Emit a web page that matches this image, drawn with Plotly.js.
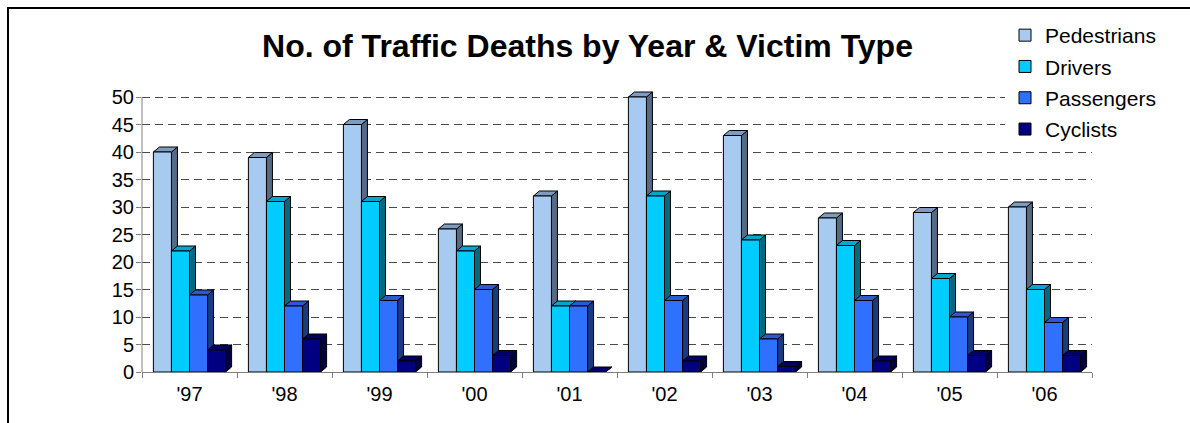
<!DOCTYPE html>
<html><head><meta charset="utf-8">
<script src="https://cdn.plot.ly/plotly-3.0.1.min.js"></script>
<style>
html,body{margin:0;padding:0;width:1190px;height:423px;overflow:hidden;background:#fff;}
#chart{position:absolute;left:0;top:0;width:1190px;height:423px;}
#frame{position:absolute;left:7px;top:7px;width:1400px;height:600px;border:2px solid #000;pointer-events:none;}
</style></head><body>
<div id="chart"></div><div id="frame"></div>
<script>
const years = ["'97","'98","'99","'00","'01","'02","'03","'04","'05","'06"];
const pedestrians = [40,39,45,26,32,50,43,28,29,30];
const drivers     = [22,31,31,22,12,32,24,23,17,15];
const passengers  = [14,12,13,15,12,13,6,13,10,9];
const cyclists    = [4,6,2,3,0,2,1,2,3,3];
const seriesNames = ['Pedestrians','Drivers','Passengers','Cyclists'];
const seriesValues = [pedestrians, drivers, passengers, cyclists];
const yTicks = [0,5,10,15,20,25,30,35,40,45,50];

const styles = [
  {front:'#A6CAF0', side:'#566A84', top:'#7E9CC2'},
  {front:'#00CCFF', side:'#006A80', top:'#00A6CE'},
  {front:'#3070FF', side:'#1A3A82', top:'#2A5AD2'},
  {front:'#000080', side:'#000040', top:'#000066'}
];
const BAR_W = 0.19, GROUP_W = BAR_W*4;
const DX = 6, DY = 5;
const FONT = 'Liberation Sans, Arial, sans-serif';

const traces = seriesValues.map((vals,j)=>({
  type:'bar', name:seriesNames[j], x:years, y:vals,
  width:BAR_W, offset:-GROUP_W/2 + j*BAR_W,
  marker:{color:styles[j].front, line:{color:'#000', width:1}},
  legendgroup:'g'+j, hoverinfo:'skip'
}));

const axisLine = {type:'line', xref:'paper', yref:'y', x0:0, x1:0, y0:0, y1:yTicks[yTicks.length-1],
  line:{color:'#808080', width:1}, layer:'above'};

const layout = {
  width:1190, height:423,
  margin:{l:142, r:98, t:90, b:51},
  paper_bgcolor:'#fff', plot_bgcolor:'rgba(0,0,0,0)',
  font:{family:FONT, color:'#000', size:20},
  title:{text:'No. of Traffic Deaths by Year & Victim Type',
    font:{family:FONT, size:32, weight:'bold', color:'#000'},
    x:587.5/1190, xref:'container', xanchor:'center',
    y:1-46/423, yref:'container', yanchor:'middle'},
  barmode:'overlay',
  showlegend:true,
  legend:{x:(1005-142)/950, xanchor:'left', y:(372-15)/282, yanchor:'top',
    bgcolor:'#fff', font:{family:FONT, size:21, color:'#000'},
    itemwidth:30, traceorder:'grouped', tracegroupgap:1},
  xaxis:{type:'category', range:[-0.5,9.5], tickson:'boundaries', ticks:'outside', ticklen:5,
    tickcolor:'#808080', showline:true, linecolor:'#808080', linewidth:1, showgrid:false,
    ticklabelstandoff:4,
    tickfont:{family:FONT, size:20}, fixedrange:true},
  yaxis:{range:[0,51.2727], tickmode:'array', tickvals:yTicks, ticks:'outside', ticklen:5,
    tickcolor:'#808080', showline:false, showgrid:true, gridcolor:'#4a4a4a', gridwidth:1,
    griddash:'8px,5px', zeroline:true, zerolinecolor:'#808080', zerolinewidth:1,
    ticklabelstandoff:-2,
    tickfont:{family:FONT, size:20}, fixedrange:true},
  shapes:[axisLine]
};

Plotly.newPlot('chart', traces, layout, {staticPlot:true, displayModeBar:false}).then(gd=>{
  const xa = gd._fullLayout.xaxis, ya = gd._fullLayout.yaxis;
  const bwPx = Math.abs(xa.l2p(BAR_W) - xa.l2p(0));
  const shapes = [axisLine];
  seriesValues.forEach((vals,j)=>{
    vals.forEach((v,i)=>{
      const right = i - GROUP_W/2 + (j+1)*BAR_W;
      const h = ya.l2p(0) - ya.l2p(v);
      const base = {type:'path', layer:'between', xref:'x', yref:'y', xsizemode:'pixel', ysizemode:'pixel',
        xanchor:right, yanchor:v, line:{color:'#000', width:1}};
      shapes.push(Object.assign({}, base, {path:`M0,0L${DX},${DY}L${DX},${DY-h}L0,${-h}Z`, fillcolor:styles[j].side}));
      shapes.push(Object.assign({}, base, {path:`M0,0L${DX},${DY}L${DX-bwPx},${DY}L${-bwPx},0Z`, fillcolor:styles[j].top}));
    });
  });
  return Plotly.relayout(gd, {shapes:shapes});
});
</script>
</body></html>
